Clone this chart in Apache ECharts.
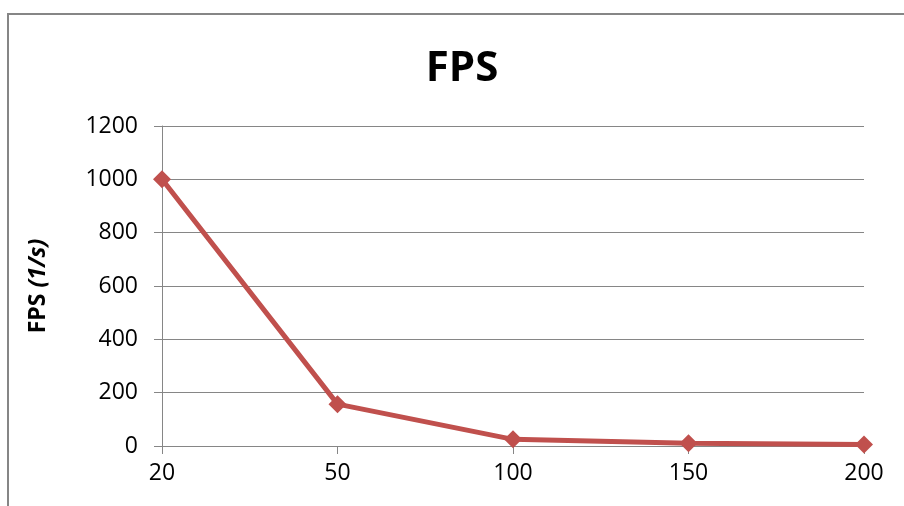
<!DOCTYPE html>
<html>
<head>
<meta charset="utf-8">
<title>FPS</title>
<script src="https://cdn.jsdelivr.net/npm/echarts@6/dist/echarts.min.js"></script>
<style>
  html, body { margin: 0; padding: 0; background: #ffffff; }
  #chart { width: 904px; height: 506px; }
</style>
</head>
<body>
<div id="chart"></div>
<script>
// Frame rate measured at each object count
const categories = ['20', '50', '100', '150', '200'];
const fpsValues = [1000, 157, 25, 10, 6];
const yTicks = { min: 0, max: 1200, interval: 200 };

const gridColor = '#868686';
const lineColor = '#C0504D';
const fontFamily = '"Open Sans", "Liberation Sans", sans-serif';

const chart = echarts.init(document.getElementById('chart'), null, { renderer: 'canvas' });

chart.setOption({
  animation: false,
  backgroundColor: '#ffffff',
  title: {
    text: 'FPS',
    left: 457,
    top: 43,
    textAlign: 'center',
    textStyle: { fontFamily: fontFamily, fontSize: 42, fontWeight: 'bold', color: '#000000' }
  },
  graphic: [{
    type: 'rect',
    shape: { x: 8, y: 14, width: 1000, height: 600 },
    style: { fill: 'none', stroke: gridColor, lineWidth: 2 },
    silent: true
  }],
  grid: { left: 162, right: 40, top: 126, bottom: 60, containLabel: false },
  xAxis: {
    type: 'category',
    data: categories,
    boundaryGap: false,
    axisLine: { show: true, lineStyle: { color: gridColor, width: 1 } },
    axisTick: { show: true, length: 8, inside: false, lineStyle: { color: gridColor } },
    axisLabel: { margin: 16, fontFamily: fontFamily, fontSize: 23, color: '#000000' },
    splitLine: { show: false }
  },
  yAxis: {
    type: 'value',
    min: yTicks.min,
    max: yTicks.max,
    interval: yTicks.interval,
    name: '{b|FPS }{i|(1/s)}',
    nameLocation: 'middle',
    nameGap: 112,
    nameRotate: 90,
    nameTextStyle: {
      fontFamily: fontFamily, fontSize: 23, fontWeight: 'bold', color: '#000000',
      rich: {
        b: { fontFamily: fontFamily, fontSize: 23, fontWeight: 'bold', color: '#000000' },
        i: { fontFamily: fontFamily, fontSize: 23, fontWeight: 'bold', fontStyle: 'italic', color: '#000000' }
      }
    },
    axisLine: { show: true, lineStyle: { color: gridColor, width: 1 } },
    axisTick: { show: true, length: 8, inside: false, lineStyle: { color: gridColor } },
    axisLabel: {
      margin: 24, fontFamily: fontFamily, fontSize: 23, color: '#000000',
      formatter: function (v) { return String(v); }
    },
    splitLine: { show: true, lineStyle: { color: gridColor, width: 1 } }
  },
  series: [{
    type: 'line',
    data: fpsValues,
    symbol: 'diamond',
    symbolSize: 18,
    lineStyle: { color: lineColor, width: 5 },
    itemStyle: { color: lineColor },
    z: 3
  }]
});
</script>
</body>
</html>
